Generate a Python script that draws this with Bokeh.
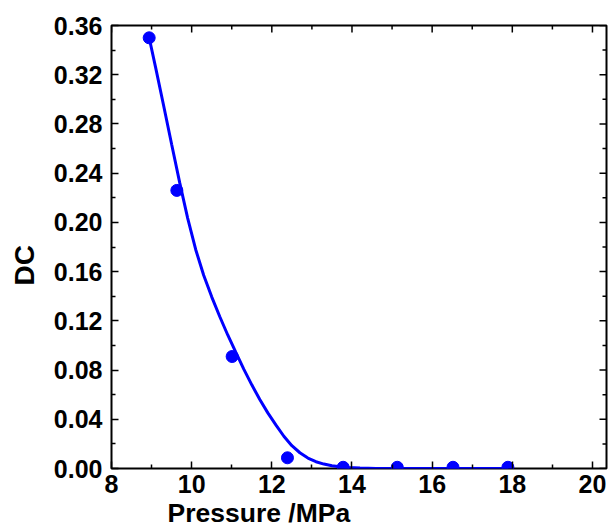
import math
from bokeh.plotting import figure
from bokeh.models import LinearAxis, Range1d, FixedTicker, PrintfTickFormatter, Title
from bokeh.embed import file_html
from bokeh.resources import INLINE

# measured data points
pressure = [8.94, 9.63, 11.01, 12.39, 13.78, 15.13, 16.52, 17.89]
dc = [0.350, 0.226, 0.091, 0.0087, 0.001, 0.001, 0.001, 0.001]

# fitted curve
fit_x = [8.94, 9.1, 9.3, 9.5, 9.7, 9.9, 10.1, 10.3, 10.5, 10.7, 10.9, 11.1, 11.3,
         11.5, 11.7, 11.9, 12.1, 12.3, 12.5, 12.7, 12.9, 13.1, 13.3, 13.5, 13.7,
         13.9, 14.2, 14.6, 15.0, 16.0, 17.0, 17.9]
fit_y = [0.350, 0.326, 0.295, 0.2635, 0.2325, 0.2035, 0.1780, 0.1570, 0.1395,
         0.1235, 0.1085, 0.0945, 0.0808, 0.0680, 0.0560, 0.0452, 0.0355, 0.0262,
         0.0185, 0.0128, 0.0085, 0.0055, 0.0036, 0.0023, 0.0014, 0.0008, 0.0004,
         0.0001, 0.0, 0.0, 0.0, 0.0]

x_ticks = [8, 10, 12, 14, 16, 18, 20]
y_ticks = [0.0, 0.04, 0.08, 0.12, 0.16, 0.20, 0.24, 0.28, 0.32, 0.36]
x_minor = [9, 11, 13, 15, 17, 19]
y_minor = [0.02, 0.06, 0.10, 0.14, 0.18, 0.22, 0.26, 0.30, 0.34]

x_title = "Pressure /MPa"
y_title = "DC"

FONT = "Liberation Sans"
FS = "25px"
X0, X1 = 8, 20.35
Y0, Y1 = 0, 0.36

p = figure(width=612, height=531, output_backend="svg", toolbar_location=None,
           x_range=Range1d(X0, X1), y_range=Range1d(Y0, Y1),
           x_axis_location=None, y_axis_location=None,
           min_border_left=111, min_border_right=6, min_border_top=25, min_border_bottom=63)
p.grid.visible = False
p.outline_line_color = "black"
p.outline_line_width = 2
p.background_fill_color = "white"
p.border_fill_color = "white"


def style(ax):
    ax.axis_line_color = None
    ax.major_tick_in = 7
    ax.major_tick_out = 0
    ax.minor_tick_in = 4
    ax.minor_tick_out = 0
    ax.major_tick_line_color = "black"
    ax.major_tick_line_width = 1.5
    ax.minor_tick_line_color = "black"
    ax.minor_tick_line_width = 1.5
    ax.major_label_text_font = FONT
    ax.major_label_text_font_style = "bold"
    ax.major_label_text_font_size = FS
    ax.major_label_text_color = "black"


xt = FixedTicker(ticks=x_ticks, minor_ticks=x_minor)
yt = FixedTicker(ticks=y_ticks, minor_ticks=y_minor)

xb = LinearAxis(ticker=xt)
style(xb)
xb.major_label_standoff = 6
p.add_layout(xb, "below")

yl = LinearAxis(ticker=yt, formatter=PrintfTickFormatter(format="%.2f"))
style(yl)
yl.major_label_standoff = 9
p.add_layout(yl, "left")

# axis titles, placed off-centre as in the reference
p.add_layout(Title(text=x_title, align="left", offset=56, vertical_align="bottom", standoff=0,
                   text_font=FONT, text_font_style="bold", text_font_size="26.5px",
                   text_color="black"), "below")
p.add_layout(Title(text=y_title, align="left", offset=183, vertical_align="top", standoff=17,
                   text_font=FONT, text_font_style="bold", text_font_size="28px",
                   text_color="black"), "left")

# inward ticks on the top and right edges
p.ray(x=x_ticks, y=[Y1] * len(x_ticks), length=7, length_units="screen",
      angle=-math.pi / 2, line_color="black", line_width=1.5)
p.ray(x=x_minor, y=[Y1] * len(x_minor), length=4, length_units="screen",
      angle=-math.pi / 2, line_color="black", line_width=1.5)
p.ray(x=[X1] * len(y_ticks), y=y_ticks, length=7, length_units="screen",
      angle=math.pi, line_color="black", line_width=1.5)
p.ray(x=[X1] * len(y_minor), y=y_minor, length=4, length_units="screen",
      angle=math.pi, line_color="black", line_width=1.5)

p.line(fit_x, fit_y, line_color="#0000FF", line_width=3)
p.scatter(pressure, dc, size=12, fill_color="#0000FF", line_color="#0000FF")

open("out.html", "w").write(file_html(p, INLINE))
